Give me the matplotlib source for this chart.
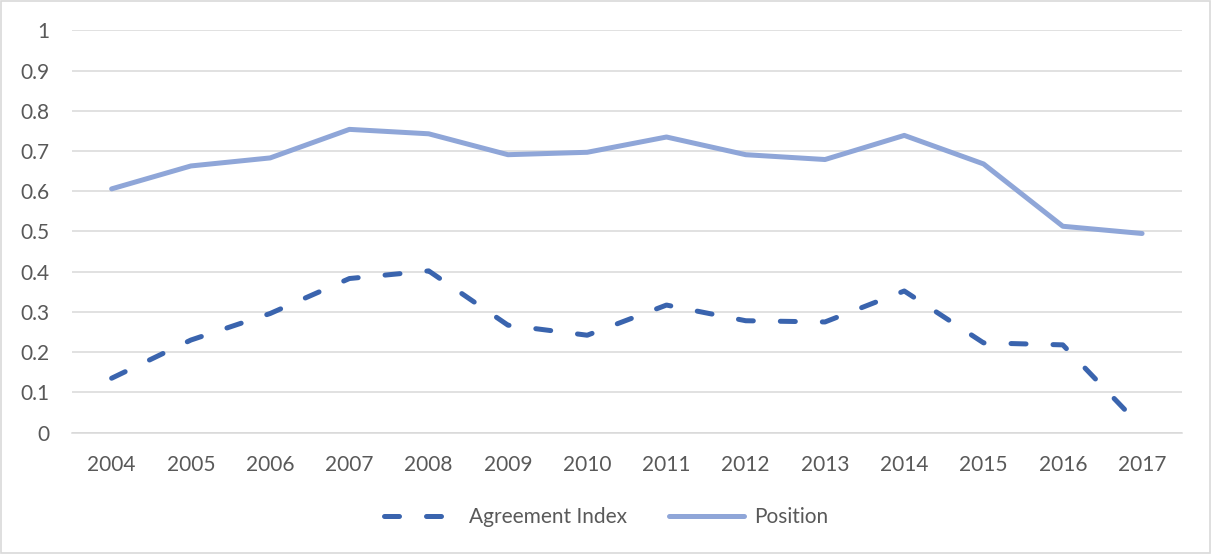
import matplotlib.pyplot as plt
from matplotlib.patches import Rectangle

# =====================================
# Datos
# =====================================
anios = ["2004", "2005", "2006", "2007", "2008", "2009", "2010",
         "2011", "2012", "2013", "2014", "2015", "2016", "2017"]
agreement_index = [0.135, 0.230, 0.296, 0.383, 0.402, 0.267, 0.242,
                   0.317, 0.278, 0.275, 0.352, 0.223, 0.218, 0.012]
position = [0.606, 0.663, 0.683, 0.754, 0.743, 0.691, 0.697,
            0.735, 0.691, 0.679, 0.739, 0.668, 0.513, 0.495]
y_ticks = [0, 0.1, 0.2, 0.3, 0.4, 0.5, 0.6, 0.7, 0.8, 0.9, 1]
y_labels = ["0", "0.1", "0.2", "0.3", "0.4", "0.5", "0.6", "0.7", "0.8", "0.9", "1"]

plt.rcParams['font.family'] = ['Lato', 'DejaVu Sans']
gris_texto = '#595959'
gris_rejilla = '#d9d9d9'

fig = plt.figure(figsize=(12.12, 5.54), dpi=100)
ax = fig.add_axes([0.0594, 0.2193, 0.9156, 0.7257])

x = list(range(len(anios)))
ax.plot(x, agreement_index, color='#3a64ae', linewidth=3.6,
        dashes=(3, 5.4), dash_capstyle='round', solid_capstyle='round',
        label='Agreement Index', clip_on=False, zorder=3)
ax.plot(x, position, color='#8fa6d8', linewidth=3.6,
        solid_capstyle='round', solid_joinstyle='round',
        label='Position', clip_on=False, zorder=3)

ax.set_xlim(-0.5, len(anios) - 0.5)
ax.set_ylim(0, 1)
ax.set_xticks(x)
ax.set_xticklabels(anios)
ax.set_yticks(y_ticks)
ax.set_yticklabels(y_labels)
ax.tick_params(axis='both', length=0, labelsize=15, colors=gris_texto)
ax.tick_params(axis='x', pad=16)
ax.tick_params(axis='y', pad=16)
ax.grid(axis='y', color=gris_rejilla, linewidth=1.1)
ax.set_axisbelow(True)
for lado in ['top', 'right', 'left']:
    ax.spines[lado].set_visible(False)
ax.spines['bottom'].set_color(gris_rejilla)
ax.spines['bottom'].set_linewidth(1.1)

fig.legend(loc='center', bbox_to_anchor=(0.5, 0.067), ncol=2, frameon=False,
           fontsize=15, labelcolor=gris_texto, handlelength=3.6,
           columnspacing=2.0, handletextpad=0.5)

fig.patches.append(Rectangle((0.001, 0.002), 0.997, 0.996, transform=fig.transFigure,
                             fill=False, edgecolor=gris_rejilla, linewidth=1.2))

plt.savefig('out.png', dpi=100)
plt.close()
